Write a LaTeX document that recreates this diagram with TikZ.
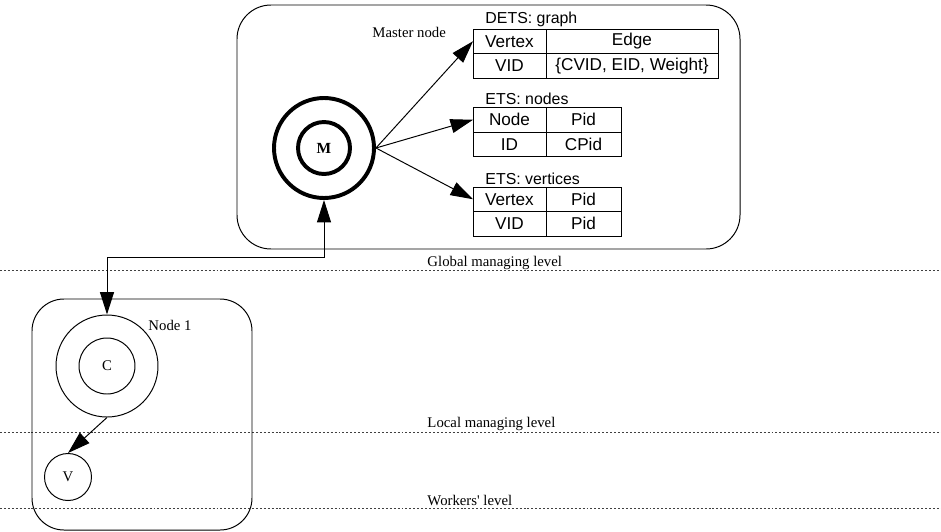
\documentclass[tikz,border=0pt]{standalone}
\usepackage{fontspec}
\setmainfont{Liberation Serif}
\setsansfont{Liberation Sans}
\usetikzlibrary{arrows.meta,positioning}

\begin{document}
\begin{tikzpicture}[>={Triangle[length=16pt,width=10pt]},line width=0.7pt,
 font=\fontsize{10.5}{12}\selectfont,
 group/.style={draw,rounded corners=0.85cm,inner sep=0pt},
 ring/.style={draw,circle,inner sep=0pt},
 thickring/.style={ring,line width=2.8pt},
 cell/.style={draw,font=\sffamily\fontsize{12.2}{14}\selectfont,minimum height=0.6125cm,minimum width=1.825cm,inner sep=0pt,outer sep=0pt},
 pidcell/.style={cell,minimum width=1.875cm},
 wide/.style={cell,minimum width=4.3cm},
 tabtitle/.style={anchor=base west,inner sep=0pt,font=\sffamily\fontsize{11.3}{13}\selectfont},
 caption/.style={anchor=base west,inner sep=0pt},
 level/.style={dash pattern=on 1.4pt off 1.4pt,line width=0.6pt,black!75},
 arrow/.style={->}]
\useasboundingbox (0,0) rectangle (23.525,-13.275);
% levels
\foreach \y in {-6.75,-10.8,-12.7} \draw[level] (0,\y) -- (23.525,\y);
\node[caption] (global) at (10.675,-6.65) {Global managing level};
\node[caption] (local) at (10.675,-10.675) {Local managing level};
\node[caption] (workers) at (10.675,-12.625) {Workers\textquotesingle{} level};
% master node
\node[group,minimum width=12.575cm,minimum height=6.1cm] (master) at (12.2125,-3.175) {};
\node[caption] (mastername) at (9.3,-0.925) {Master node};
\node[thickring,minimum size=2.5cm] (mout) at (8.1,-3.7) {};
\node[thickring,minimum size=1.3cm,font=\fontsize{11}{12}\selectfont\bfseries] (m) at (mout) {M};
% tables
\node[tabtitle] (graphname) at (12.125,-0.58) {DETS: graph};
\node[cell,anchor=north west] (gv) at (11.825,-0.725) {Vertex};
\node[wide,right=0pt of gv] (ge) {Edge};
\node[cell,below=0pt of gv] (gid) {VID};
\node[wide,below=0pt of ge] (gw) {\{CVID, EID, Weight\}};
\node[tabtitle] (nodesname) at (12.125,-2.6) {ETS: nodes};
\node[cell,anchor=north west] (nn) at (11.825,-2.6875) {Node};
\node[pidcell,right=0pt of nn] (np) {Pid};
\node[cell,below=0pt of nn] (nid) {ID};
\node[pidcell,below=0pt of np] (ncp) {CPid};
\node[tabtitle] (vertname) at (12.125,-4.6) {ETS: vertices};
\node[cell,anchor=north west] (vv) at (11.825,-4.675) {Vertex};
\node[pidcell,right=0pt of vv] (vp) {Pid};
\node[cell,below=0pt of vv] (vid) {VID};
\node[pidcell,below=0pt of vp] (vpid) {Pid};
% node 1
\node[group,rounded corners=0.8cm,minimum width=5.5cm,minimum height=5.775cm] (node1) at (3.55,-10.3625) {};
\node[caption] (node1name) at (3.7,-8.25) {Node 1};
\node[ring,minimum size=2.55cm] (cout) at (2.675,-9.15) {};
\node[ring,minimum size=1.4cm] (c) at (cout) {C};
\node[ring,minimum size=1.175cm] (v) at (1.7,-11.925) {V};
% connectors
\draw[arrow] (mout.east) -- (gv.west);
\draw[arrow] (mout.east) -- (nn.west);
\draw[arrow] (mout.east) -- (vv.west);
\draw[<->] (mout.south) -- ++(0,-1.45) -| (cout.north);
\draw[arrow] (cout.south) -- (v.north);
\end{tikzpicture}
\end{document}
